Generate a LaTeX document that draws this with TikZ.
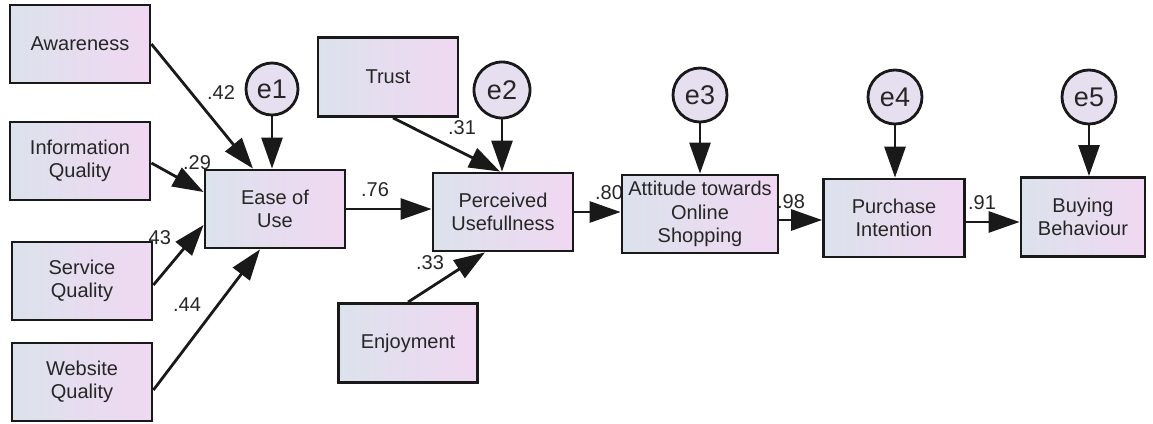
\documentclass[tikz,border=0pt]{standalone}
\usepackage{fontspec}
\setmainfont{Liberation Sans}
\usetikzlibrary{arrows.meta}
\definecolor{boxL}{HTML}{DCE2EC}
\definecolor{boxR}{HTML}{F0D8F2}
\definecolor{circF}{HTML}{E6DFF0}
\definecolor{txt}{HTML}{262626}
\begin{document}
\begin{tikzpicture}[x=1pt,y=-1pt,
  var/.style={draw=black!90, line width=2.8pt, left color=boxL, right color=boxR,
    minimum width=140pt, minimum height=78pt, inner sep=0pt, align=center,
    text=txt, font=\fontsize{20}{23.5}\selectfont},
  err/.style={draw=black!90, line width=2.8pt, circle, fill=circF, minimum size=52pt,
    inner sep=0pt, text=txt, font=\fontsize{27}{30}\selectfont},
  path/.style={line width=2.8pt, draw=black!90, -{Triangle[length=31pt,width=21pt]}},
  coef/.style={text=txt, font=\fontsize{20}{22}\selectfont, inner sep=0pt}
]
\useasboundingbox (0,0) rectangle (1153,423);
% coefficient labels (drawn first, boxes may cover parts)
\node[coef] (l42) at (221,93) {.42};
\node[coef] (l29) at (197,163) {.29};
\node[coef] (l43) at (157,238) {.43};
\node[coef] (l44) at (187,305) {.44};
\node[coef] (l76) at (375,190) {.76};
\node[coef] (l31) at (462,128) {.31};
\node[coef] (l33) at (430,263) {.33};
\node[coef] (l80) at (609,193) {.80};
\node[coef] (l98) at (791,202) {.98};
\node[coef] (l91) at (982,203) {.91};
% variables
\node[var] (aw) at (80,44) {Awareness};
\node[var] (iq) at (80,161) {Information\\Quality};
\node[var] (sq) at (82,281) {Service\\Quality};
\node[var] (wq) at (82,382) {Website\\Quality};
\node[var] (eou) at (275,209) {Ease of\\Use};
\node[var, minimum height=79pt] (tr) at (388,77) {Trust};
\node[var] (pu) at (503,212) {Perceived\\Usefullness};
\node[var, minimum width=139pt, minimum height=79pt] (enj) at (408,343) {Enjoyment};
\node[var, minimum width=156pt] (att) at (700,214) {Attitude towards\\Online\\Shopping};
\node[var, minimum width=141pt] (pi) at (894,218) {Purchase\\Intention};
\node[var, minimum width=124pt, minimum height=79pt] (bb) at (1083,217) {Buying\\Behaviour};
% errors
\node[err] (e1) at (272,89) {e1};
\node[err, minimum size=56pt] (e2) at (502,90) {e2};
\node[err, minimum size=54pt] (e3) at (700,95) {e3};
\node[err, minimum size=54pt] (e4) at (895,97) {e4};
\node[err, minimum size=54pt] (e5) at (1089,97) {e5};
% paths
\draw[path] (aw.east) -- ([xshift=-22pt]eou.north);
\draw[path] ([yshift=-2pt]iq.east) -- ([yshift=17pt]eou.west);
\draw[path] ([yshift=-4pt]sq.east) -- ([yshift=-16pt]eou.west);
\draw[path] ([yshift=-8pt]wq.east) -- ([xshift=-15pt]eou.south);
\draw[path] (e1.south) -- (e1.south |- eou.north);
\draw[path] (eou.east) -- (eou.east -| pu.west);
\draw[path] ([xshift=5pt]tr.south) -- ([xshift=-3pt]pu.north);
\draw[path] (e2.south) -- (e2.south |- pu.north);
\draw[path] (enj.north) -- ([xshift=-18pt]pu.south);
\draw[path] (pu.east) -- (pu.east -| att.west);
\draw[path] (e3.south) -- (e3.south |- att.north);
\draw[path] ([yshift=-6pt]att.east) -- ([yshift=-6pt]att.east -| pi.west);
\draw[path] (e4.south) -- (e4.south |- pi.north);
\draw[path] ([yshift=-4pt]pi.east) -- ([yshift=-4pt]pi.east -| bb.west);
\draw[path] (e5.south) -- (e5.south |- bb.north);
\end{tikzpicture}
\end{document}
